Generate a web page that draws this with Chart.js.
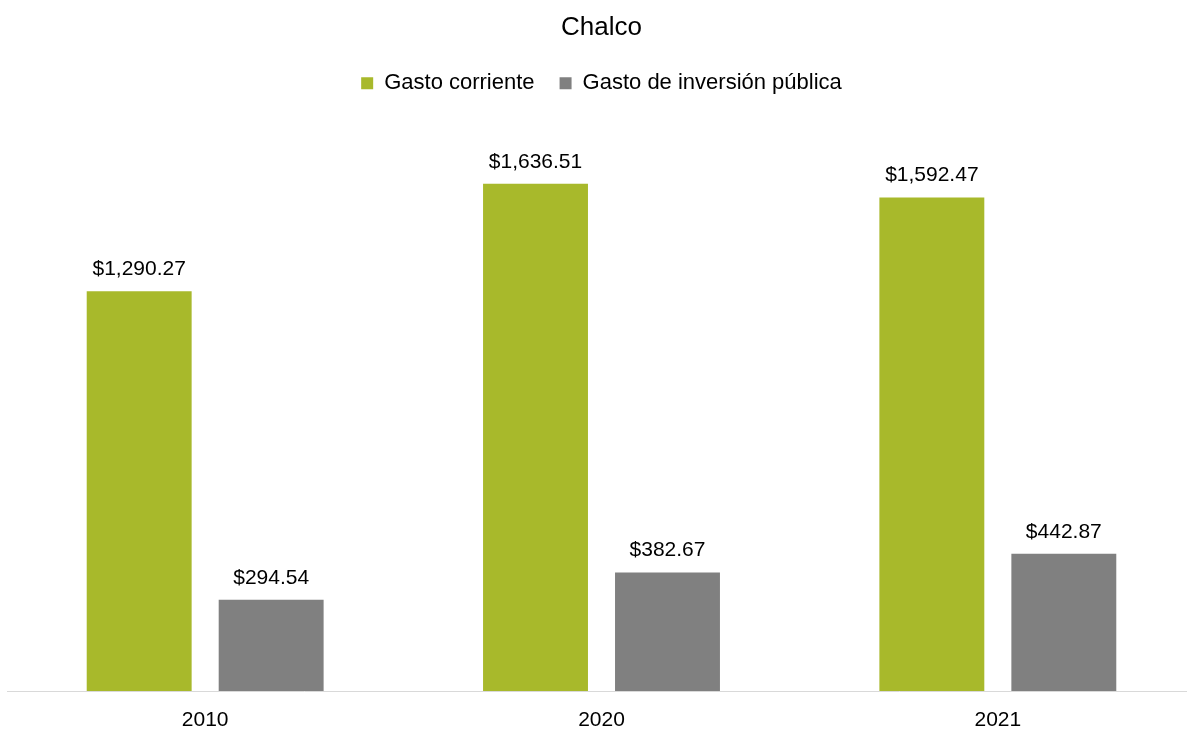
<!DOCTYPE html>
<html>
<head>
<meta charset="utf-8">
<script src="https://cdn.jsdelivr.net/npm/chart.js@4.4.1/dist/chart.umd.min.js"></script>
<style>
  html, body { margin: 0; padding: 0; background: #fff; overflow: hidden; }
  /* un poco más ancho que la ventana: el eje sale por la derecha como en el original */
  #wrap { width: 1196px; height: 731px; }
</style>
</head>
<body>
<div id="wrap"><canvas id="chalcoChart"></canvas></div>
<script>
// ========== DATOS ==========
const anios = ['2010', '2020', '2021'];
const gastoCorriente = [1290.27, 1636.51, 1592.47];
const gastoInversion = [294.54, 382.67, 442.87];

const FONT = "'Liberation Sans', Arial, sans-serif";

function formatMoneda(v) {
  return '$' + v.toLocaleString('en-US', { minimumFractionDigits: 2, maximumFractionDigits: 2 });
}

// Etiquetas encima de las barras
const etiquetasPlugin = {
  id: 'etiquetas',
  afterDatasetsDraw(chart) {
    const ctx = chart.ctx;
    ctx.save();
    ctx.font = '21px ' + FONT;
    ctx.fillStyle = '#000';
    ctx.textAlign = 'center';
    ctx.textBaseline = 'middle';
    chart.data.datasets.forEach((ds, i) => {
      chart.getDatasetMeta(i).data.forEach((bar, j) => {
        ctx.fillText(formatMoneda(ds.data[j]), bar.x, bar.y - 22);
      });
    });
    ctx.restore();
  }
};

// Espacio extra debajo de la leyenda
const margenLeyenda = {
  id: 'margenLeyenda',
  beforeInit(chart) {
    const fitOriginal = chart.legend.fit;
    chart.legend.fit = function () {
      fitOriginal.bind(chart.legend)();
      this.height += 29;
    };
  }
};

new Chart(document.getElementById('chalcoChart'), {
  type: 'bar',
  data: {
    labels: anios,
    datasets: [
      {
        label: 'Gasto corriente',
        data: gastoCorriente,
        backgroundColor: '#a8b92b',
        categoryPercentage: 0.666,
        barPercentage: 0.795
      },
      {
        label: 'Gasto de inversión pública',
        data: gastoInversion,
        backgroundColor: '#808080',
        categoryPercentage: 0.666,
        barPercentage: 0.795
      }
    ]
  },
  options: {
    responsive: true,
    maintainAspectRatio: false,
    animation: false,
    layout: { padding: { left: 7, right: 0, top: 0, bottom: 0 } },
    plugins: {
      title: {
        display: true,
        text: 'Chalco',
        color: '#000',
        font: { family: FONT, size: 26, weight: 'normal' },
        padding: { top: 12, bottom: 4 }
      },
      legend: {
        position: 'top',
        labels: {
          color: '#000',
          font: { family: FONT, size: 22 },
          boxWidth: 12,
          boxHeight: 12,
          padding: 25
        }
      },
      tooltip: { enabled: false }
    },
    scales: {
      x: {
        grid: { display: false, drawTicks: false },
        border: { color: '#d9d9d9', width: 1 },
        ticks: { color: '#000', font: { family: FONT, size: 21 }, padding: 17 },
        afterFit(scale) { scale.height = 40; }
      },
      y: {
        display: false,
        min: 0,
        max: 1800
      }
    }
  },
  plugins: [etiquetasPlugin, margenLeyenda]
});
</script>
</body>
</html>
